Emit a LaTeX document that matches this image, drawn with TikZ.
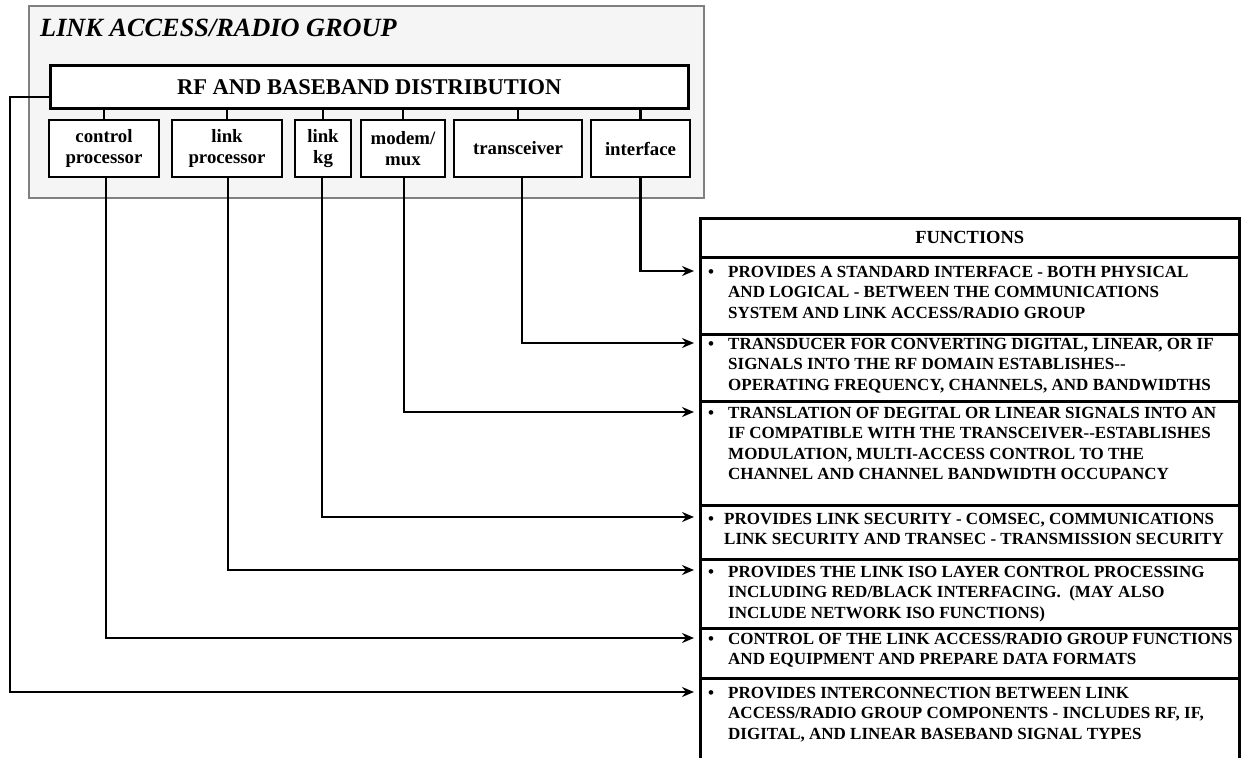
\documentclass[tikz,border=0pt]{standalone}
\usepackage{fontspec}
\setmainfont{Liberation Serif}
\usetikzlibrary{arrows.meta}
\definecolor{groupfill}{HTML}{F5F5F5}
\definecolor{groupdraw}{HTML}{808080}
\begin{document}
\begin{tikzpicture}[x=1pt,y=-1pt,
  groupbox/.style={draw=groupdraw, fill=groupfill, line width=2.2pt, anchor=north west, inner sep=0pt},
  modbox/.style={draw, line width=2.6pt, fill=white, align=center, inner sep=0pt,
    font=\fontsize{18.8}{21}\selectfont\bfseries, minimum height=57pt},
  conn/.style={line width=2.2pt},
  arr/.style={line width=2.2pt, -{Stealth[length=12pt,width=10pt,inset=4pt]}},
  rowbox/.style={draw, line width=2.6pt, minimum width=539pt, inner sep=0pt, anchor=north west},
  ftext/.style={anchor=base west, inner sep=0pt, font=\fontsize{17}{20.5}\selectfont\bfseries},
  ]
\useasboundingbox (0,0) rectangle (1243,758);

% group box
\node[groupbox, minimum width=675pt, minimum height=192pt] (grp) at (28,5) {};
\node[anchor=base west, inner sep=0pt, font=\fontsize{26.3}{29}\selectfont\bfseries\itshape] (title) at (40,36) {LINK ACCESS/RADIO GROUP};

% distribution bar
\node[draw, fill=white, line width=2.6pt, anchor=north west, inner sep=0pt,
  minimum width=638pt, minimum height=43pt, font=\fontsize{22.5}{26}\selectfont\bfseries] (rf) at (49,64) {RF AND BASEBAND DISTRIBUTION};

% modules
\node[modbox, minimum width=110pt] (m1) at (104,148.5) {control\\processor};
\node[modbox, minimum width=110pt] (m2) at (227,148.5) {link\\processor};
\node[modbox, minimum width=56pt]  (m3) at (323,148.5) {link\\kg};
\node[modbox, minimum width=84pt]  (m4) at (403,148.5) {modem/\\mux};
\node[modbox, minimum width=128pt] (m5) at (518,148.5) {transceiver};
\node[modbox, minimum width=99pt]  (m6) at (640.5,148.5) {interface};

\foreach \m in {m1,m2,m3,m4,m5,m6}
  \draw[conn] (\m.north) -- (\m.north |- rf.south);

% functions table
\node[rowbox, minimum height=39pt, font=\fontsize{18.5}{21}\selectfont\bfseries] (hdr) at (699,217) {FUNCTIONS};
\node[rowbox, minimum height=77pt] (r1) at (699,256) {};
\node[rowbox, minimum height=67pt] (r2) at (699,333) {};
\node[rowbox, minimum height=104pt] (r3) at (699,400) {};
\node[rowbox, minimum height=54pt] (r4) at (699,504) {};
\node[rowbox, minimum height=69pt] (r5) at (699,558) {};
\node[rowbox, minimum height=50pt] (r6) at (699,627) {};
\node[rowbox, minimum height=100pt] (r7) at (699,677) {};

% bullets
\foreach \y/\n in {277/b1,349/b2,418/b3,524/b4,577/b5,644/b6,698/b7}
  \node[ftext] (\n) at (708,\y) {\textbullet};

% texts
\node[ftext] (t1) at (728,277) {\parbox[t]{505pt}{\raggedright
  PROVIDES A STANDARD INTERFACE - BOTH PHYSICAL\\
  AND LOGICAL - BETWEEN THE COMMUNICATIONS\\
  SYSTEM AND LINK ACCESS/RADIO GROUP}};
\node[ftext] (t2) at (728,349) {\parbox[t]{505pt}{\raggedright
  TRANSDUCER FOR CONVERTING DIGITAL, LINEAR, OR IF\\
  SIGNALS INTO THE RF DOMAIN ESTABLISHES-{}-\\
  OPERATING FREQUENCY, CHANNELS, AND BANDWIDTHS}};
\node[ftext] (t3) at (728,418) {\parbox[t]{505pt}{\raggedright
  TRANSLATION OF DEGITAL OR LINEAR SIGNALS INTO AN\\
  IF COMPATIBLE WITH THE TRANSCEIVER-{}-ESTABLISHES\\
  MODULATION, MULTI-ACCESS CONTROL TO THE\\
  CHANNEL AND CHANNEL BANDWIDTH OCCUPANCY}};
\node[ftext] (t4) at (724,524) {\parbox[t]{510pt}{\raggedright
  PROVIDES LINK SECURITY - COMSEC, COMMUNICATIONS\\
  LINK SECURITY AND TRANSEC - TRANSMISSION SECURITY}};
\node[ftext] (t5) at (728,577) {\parbox[t]{505pt}{\raggedright
  PROVIDES THE LINK ISO LAYER CONTROL PROCESSING\\
  INCLUDING RED/BLACK INTERFACING.\ \ (MAY ALSO\\
  INCLUDE NETWORK ISO FUNCTIONS)}};
\node[ftext] (t6) at (728,644) {\parbox[t]{505pt}{\raggedright
  CONTROL OF THE LINK ACCESS/RADIO GROUP FUNCTIONS\\
  AND EQUIPMENT AND PREPARE DATA FORMATS}};
\node[ftext] (t7) at (728,698) {\parbox[t]{505pt}{\raggedright
  PROVIDES INTERCONNECTION BETWEEN LINK\\
  ACCESS/RADIO GROUP COMPONENTS - INCLUDES RF, IF,\\
  DIGITAL, AND LINEAR BASEBAND SIGNAL TYPES}};

% arrow targets
\foreach \y/\n in {271/a1,343/a2,412/a3,517/a4,570/a5,638/a6,692/a7}
  \coordinate (\n) at (694,\y);

% connectors
\draw[arr] (m6.south) |- (a1);
\draw[arr] ([xshift=4pt]m5.south) |- (a2);
\draw[arr] ([xshift=1pt]m4.south) |- (a3);
\draw[arr] ([xshift=-1pt]m3.south) |- (a4);
\draw[arr] ([xshift=1pt]m2.south) |- (a5);
\draw[arr] ([xshift=2pt]m1.south) |- (a6);
\draw[arr] ([yshift=-10.5pt]rf.west) -- ++(-39,0) |- (a7);
\end{tikzpicture}
\end{document}
